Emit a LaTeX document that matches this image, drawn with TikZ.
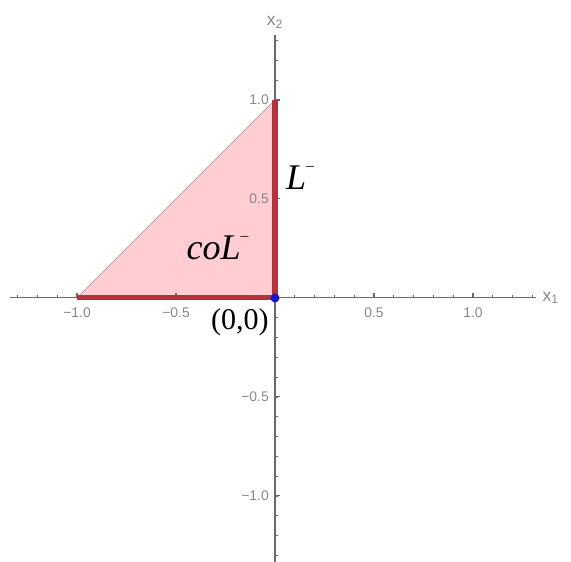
\documentclass[tikz,border=0pt]{standalone}
\usepackage{fontspec}
\setmainfont{Liberation Serif}
\setsansfont{Liberation Sans}
\usepackage{tikz}
\usetikzlibrary{calc}
\usepackage{xcolor}
\definecolor{axisgray}{RGB}{105,105,105}
\definecolor{labelgray}{RGB}{135,135,135}
\definecolor{conepink}{RGB}{255,205,210}
\definecolor{setred}{RGB}{180,50,62}
\definecolor{origblue}{RGB}{25,25,205}
\tikzset{
  axisline/.style={axisgray,line width=0.6pt},
  ticklabel/.style={labelgray,font=\sffamily\footnotesize,inner sep=1pt},
  setline/.style={setred,line width=2.9pt},
}

\begin{document}
\begin{tikzpicture}[x=4cm,y=4cm]
  \useasboundingbox (-1.389,-1.333) rectangle (1.495,1.505);
  \coordinate (O) at (0,0);
  \coordinate (A) at (-1,0);
  \coordinate (B) at (0,1);
  % the cone
  \fill[conepink] (A) -- (O) -- (B) -- cycle;
  \draw[labelgray!70,line width=0.5pt] (A) -- (B);
  % axes
  \draw[axisline] (-1.34,0) -- (1.32,0) node[right,labelgray,font=\sffamily\normalsize]{x\textsubscript{1}};
  \draw[axisline] (0,-1.36) -- (0,1.33) node[above,labelgray,font=\sffamily\normalsize]{x\textsubscript{2}};
  \foreach \x in {-13,...,13}{\draw[axisline,line width=0.4pt] (\x/10,0)--(\x/10,0.014);}
  \foreach \y in {-13,...,13}{\draw[axisline,line width=0.4pt] (0,\y/10)--(0.014,\y/10);}
  \foreach \x/\t in {-1.0/\textminus1.0,-0.5/\textminus0.5,0.5/0.5,1.0/1.0}{\draw[axisline] (\x,0)--(\x,0.024) node[ticklabel] at (\x,-0.075){\t};}
  \foreach \y/\t in {-1.0/\textminus1.0,-0.5/\textminus0.5,0.5/0.5,1.0/1.0}{\draw[axisline] (0,\y)--(0.024,\y) node[ticklabel,anchor=east] at (-0.02,\y){\t};}
  % the set and its hull
  \draw[setline] (A) -- (O);
  \draw[setline] (O) -- (B);
  \fill[origblue] (O) circle (2.6pt);
  \node (Lminus) at (0.126,0.61) {\huge\itshape L\raisebox{1.1ex}{\small\textendash}};
  \node (coL) at (-0.29,0.255) {\huge\itshape coL\raisebox{1.1ex}{\small\textendash}};
  \node (orig) at (-0.177,-0.125) {\LARGE (0,0)};
\end{tikzpicture}
\end{document}
